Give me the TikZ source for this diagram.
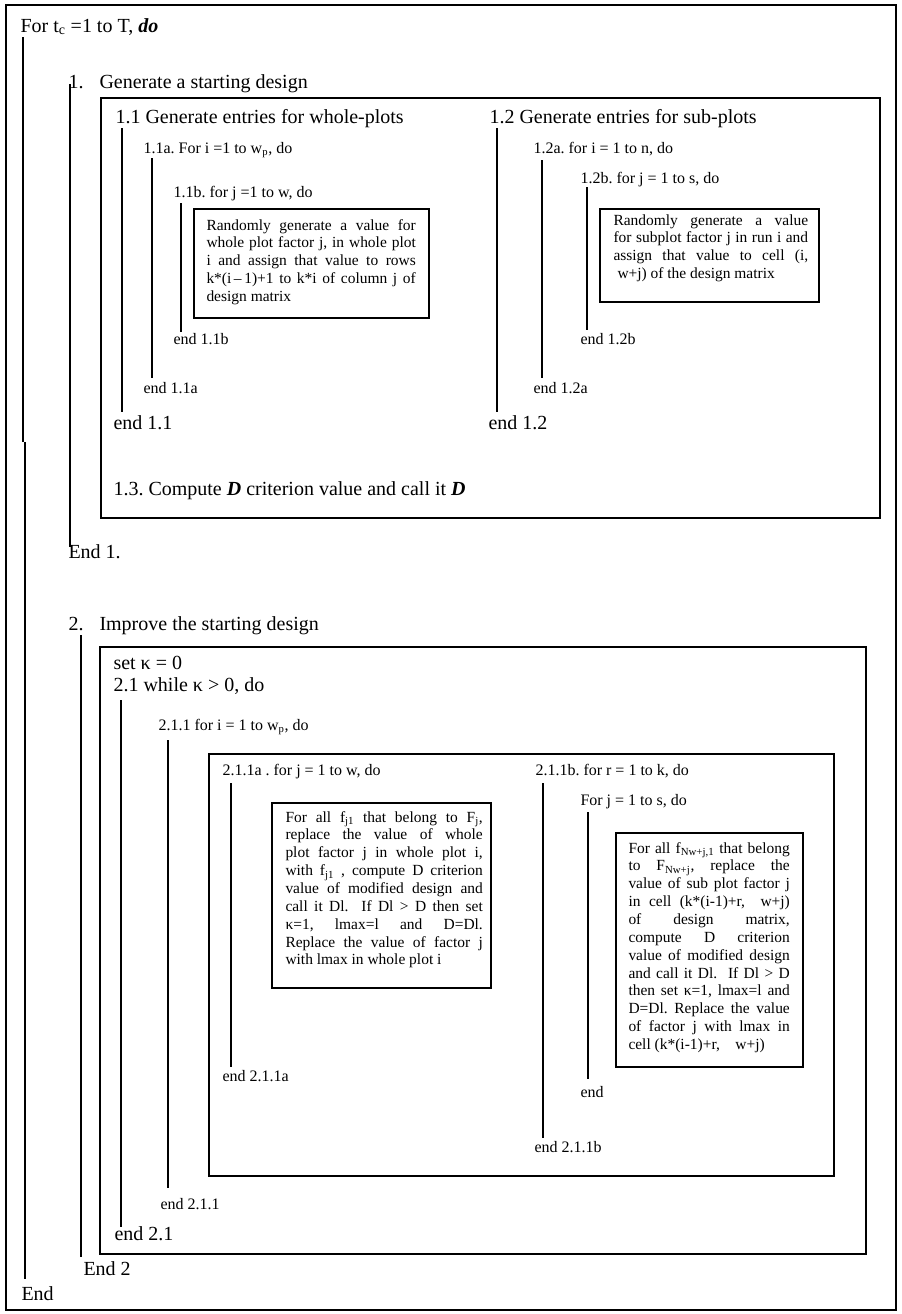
\documentclass[tikz,border=0pt]{standalone}
\usepackage{fontspec}
\setmainfont{Liberation Serif}
\usepackage{tikz}
\tikzset{every picture/.style={line width=0.75pt}}
\tolerance=9999
\hyphenpenalty=10000
\frenchspacing
\tikzset{
  lbig/.style={anchor=base west, inner sep=0pt, font=\fontsize{15}{17}\selectfont},
  lmid/.style={anchor=base west, inner sep=0pt, font=\fontsize{12}{14}\selectfont},
  lend/.style={anchor=base west, inner sep=0pt, font=\fontsize{12}{14}\selectfont},
  boxtext/.style={anchor=base west, inner sep=0pt, align=justify, font=\fontsize{11.6}{13.4}\selectfont},
  bigframe/.style={line width=2.2pt},
  midframe/.style={line width=1.9pt},
  txtframe/.style={line width=1.1pt},
  flow/.style={line width=1pt}
}

\begin{document}
\begin{tikzpicture}[x=0.75pt,y=0.75pt,yscale=-1,xscale=1]
		\useasboundingbox (0,0) rectangle (901,1314);
		
		%Shape: Rectangle [outer frame]
		\draw [bigframe] (6,5) rectangle (896,1310) ;
		
		% Text Node
		\node [lbig] (forT) at (20,32) {For t\textsubscript{c} =1 to T, \textbf{\textit{do}}};
		\node [lbig] (eAll) at (21,1300) {End};
		
		%Straight Lines
		\coordinate (l0a) at (23,37);
		\coordinate (l0b) at (23,442);
		\coordinate (l0c) at (25,442);
		\coordinate (l0d) at (25,1279);
		\draw [flow] (l0a) -- (l0b) ;
		\draw [flow] (l0c) -- (l0d) ;
		
		% ---------- step 1 ----------
		% Text Node
		\node [lbig] (n1) at (68,88) {1.};
		\node [lbig] (s1) at (99,88) {Generate a starting design};
		\node [lbig] (e1) at (68,558) {End 1.};
		
		\coordinate (l1a) at (70,84);
		\coordinate (l1b) at (70,547);
		\draw [flow] (l1a) -- (l1b) ;
		
		%Shape: Rectangle
		\draw [bigframe] (101,98) rectangle (880,518) ;
		
		% Text Node
		\node [lbig] (s11) at (115,123) {1.1 Generate entries for whole-plots};
		\node [lmid] (s11a) at (143,153) {1.1a. For i =1 to w\textsubscript{p}, do};
		\node [lmid] (s11b) at (173,197) {1.1b. for j =1 to w, do};
		\node [lend] (e11b) at (173,344) {end 1.1b};
		\node [lend] (e11a) at (143,393) {end 1.1a};
		\node [lbig] (e11) at (113,429) {end 1.1};
		
		\coordinate (l11a) at (122,128);
		\coordinate (l11b) at (122,412);
		\coordinate (l11aa) at (152,158);
		\coordinate (l11ab) at (152,378);
		\coordinate (l11ba) at (181,203);
		\coordinate (l11bb) at (181,332);
		\draw [flow] (l11a) -- (l11b) ;
		\draw [flow] (l11aa) -- (l11ab) ;
		\draw [flow] (l11ba) -- (l11bb) ;
		
		%Shape: Rectangle
		\draw [txtframe] (194,209) rectangle (429,318) ;
		\node [boxtext, text width=157pt] (t11) at (206,230) {Randomly generate a value for\linebreak
		  whole plot factor j, in whole plot\linebreak
		  i and assign that value to rows\linebreak
		  k*(i\,–\,1)+1 to k*i of column j of\linebreak
		  design matrix};
		
		% Text Node
		\node [lbig] (s12) at (489,123) {1.2 Generate entries for sub-plots};
		\node [lmid] (s12a) at (533,153) {1.2a. for i = 1 to n, do};
		\node [lmid] (s12b) at (580,183) {1.2b. for j = 1 to s, do};
		\node [lend] (e12b) at (580,344) {end 1.2b};
		\node [lend] (e12a) at (533,393) {end 1.2a};
		\node [lbig] (e12) at (488,429) {end 1.2};
		
		\coordinate (l12a) at (497,128);
		\coordinate (l12b) at (497,412);
		\coordinate (l12aa) at (542,160);
		\coordinate (l12ab) at (542,378);
		\coordinate (l12ba) at (587,187);
		\coordinate (l12bb) at (587,330);
		\draw [flow] (l12a) -- (l12b) ;
		\draw [flow] (l12aa) -- (l12ab) ;
		\draw [flow] (l12ba) -- (l12bb) ;
		
		%Shape: Rectangle
		\draw [txtframe] (600,209) rectangle (819,302) ;
		\node [boxtext, text width=146pt] (t12) at (613,225) {Randomly generate a value\linebreak
		  for subplot factor j in run i and\linebreak
		  assign that value to cell (i,\linebreak
		  \hspace*{3pt}w+j) of the design matrix};
		
		% Text Node
		\node [lbig] (s13) at (113,495) {1.3. Compute \textbf{\textit{D}} criterion value and call it \textbf{\textit{D}}};
		
		% ---------- step 2 ----------
		% Text Node
		\node [lbig] (n2) at (68,630) {2.};
		\node [lbig] (s2) at (99,630) {Improve the starting design};
		\node [lbig] (e2) at (83,1275) {End 2};
		
		\coordinate (l2a) at (81,635);
		\coordinate (l2b) at (81,1257);
		\draw [flow] (l2a) -- (l2b) ;
		
		%Shape: Rectangle
		\draw [bigframe] (100,647) rectangle (866,1254) ;
		
		% Text Node
		\node [lbig] (setk) at (113,669) {set κ = 0};
		\node [lbig] (s21) at (113,691) {2.1 while κ > 0, do};
		\node [lmid] (s211) at (158,730) {2.1.1 for i = 1 to w\textsubscript{p}, do};
		\node [lend] (e211) at (160,1209) {end 2.1.1};
		\node [lbig] (e21) at (114,1240) {end 2.1};
		
		\coordinate (l21a) at (121,700);
		\coordinate (l21b) at (121,1227);
		\coordinate (l211a) at (168,740);
		\coordinate (l211b) at (168,1188);
		\draw [flow] (l21a) -- (l21b) ;
		\draw [flow] (l211a) -- (l211b) ;
		
		%Shape: Rectangle
		\draw [midframe] (209,754) rectangle (834,1176) ;
		
		% Text Node
		\node [lmid] (s211a) at (222,775) {2.1.1a . for j = 1 to w, do};
		\node [lend] (e211a) at (222,1081) {end 2.1.1a};
		
		\coordinate (l211aa) at (231,783);
		\coordinate (l211ab) at (231,1067);
		\draw [flow] (l211aa) -- (l211ab) ;
		
		%Shape: Rectangle
		\draw [txtframe] (272,803) rectangle (491,988) ;
		\node [boxtext, text width=148pt] (t211a) at (285,822) {For all f\textsubscript{j1} that belong to F\textsubscript{j},\linebreak
		  replace the value of whole\linebreak
		  plot factor j in whole plot i,\linebreak
		  with f\textsubscript{j1} , compute D criterion\linebreak
		  value of modified design and\linebreak
		  call it Dl.\ \ If Dl > D then set\linebreak
		  κ=1, lmax=l and D=Dl.\linebreak
		  Replace the value of factor j\linebreak
		  with lmax in whole plot i};
		
		% Text Node
		\node [lmid] (s211b) at (535,775) {2.1.1b. for r = 1 to k, do};
		\node [lmid] (sforj) at (580,805) {For j = 1 to s, do};
		\node [lend] (ej) at (580,1097) {end};
		\node [lend] (e211b) at (534,1152) {end 2.1.1b};
		
		\coordinate (l211ba) at (543,783);
		\coordinate (l211bb) at (543,1138);
		\coordinate (lja) at (588,812);
		\coordinate (ljb) at (588,1079);
		\draw [flow] (l211ba) -- (l211bb) ;
		\draw [flow] (lja) -- (ljb) ;
		
		%Shape: Rectangle
		\draw [txtframe] (616,833) rectangle (803,1067) ;
		\node [boxtext, text width=121pt] (t211b) at (628,853) {For all f\textsubscript{Nw+j,1} that belong\linebreak
		  to F\textsubscript{Nw+j}, replace the\linebreak
		  value of sub plot factor j\linebreak
		  in cell (k*(i-1)+r,\quad w+j)\linebreak
		  of design matrix,\linebreak
		  compute D criterion\linebreak
		  value of modified design\linebreak
		  and call it Dl.\ \ If Dl > D\linebreak
		  then set κ=1, lmax=l and\linebreak
		  D=Dl. Replace the value\linebreak
		  of factor j with lmax in\linebreak
		  cell (k*(i-1)+r,\ \ \ \ w+j)};
		
\end{tikzpicture}
\end{document}
